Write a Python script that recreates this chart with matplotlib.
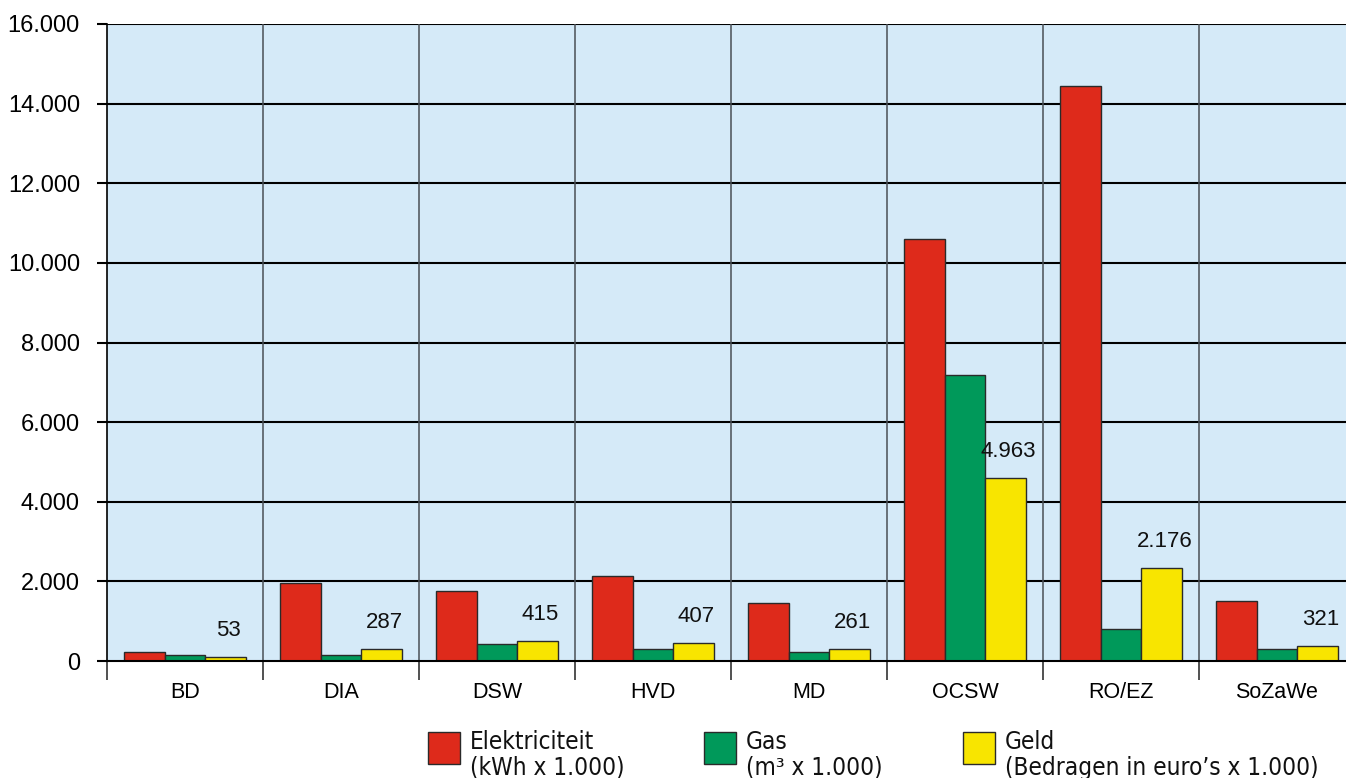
import matplotlib
matplotlib.use("Agg")
import matplotlib.pyplot as plt
from matplotlib.patches import Rectangle
import numpy as np
from matplotlib import font_manager

categories = ["BD", "DIA", "DSW", "HVD", "MD", "OCSW", "RO/EZ", "SoZaWe"]
elektriciteit = [220, 1960, 1760, 2140, 1450, 10590, 14450, 1510]
gas = [150, 145, 435, 310, 220, 7190, 800, 295]
geld = [100, 310, 510, 445, 310, 4600, 2345, 370]
geld_labels = ["53", "287", "415", "407", "261", "4.963", "2.176", "321"]
series_names = ["Elektriciteit\n(kWh x 1.000)", "Gas\n(m³ x 1.000)", "Geld\n(Bedragen in euro’s x 1.000)"]
yticks = [0, 2000, 4000, 6000, 8000, 10000, 12000, 14000, 16000]
ytick_labels = ["0", "2.000", "4.000", "6.000", "8.000", "10.000", "12.000", "14.000", "16.000"]

colors = ["#DE2A1B", "#00995A", "#F8E500"]
bg = "#D5EAF8"

avail = {f.name for f in font_manager.fontManager.ttflist}
narrow = "Liberation Sans Narrow" if "Liberation Sans Narrow" in avail else "DejaVu Sans"
plt.rcParams['font.family'] = ['Liberation Sans', 'DejaVu Sans']

W, H = 1346, 778
fig = plt.figure(figsize=(W / 100, H / 100), dpi=100)
ax = fig.add_axes([107 / W, (H - 661) / H, 1248 / W, (661 - 24) / H])
ax.set_facecolor(bg)

n = len(categories)
x = np.arange(n)
bw = 0.26
for i, (vals, c) in enumerate(zip([elektriciteit, gas, geld], colors)):
    ax.bar(x + (i - 1) * bw, vals, width=bw, color=c, edgecolor="#2a2a2a", linewidth=1.0, zorder=3)

for xi, v, lab in zip(x, geld, geld_labels):
    ax.annotate(lab, (xi + bw, v), xytext=(2, 19), textcoords="offset points",
                ha="center", va="center", fontsize=16, color="#111111", zorder=4)

ax.set_xlim(-0.5, n - 0.5)
ax.set_ylim(0, 16000)
ax.set_yticks(yticks)
ax.set_yticklabels(ytick_labels, fontsize=17)
ax.set_xticks(x)
ax.set_xticklabels(categories, fontsize=15.5)
ax.tick_params(axis="x", which="major", length=0, pad=15)
ax.set_xticks(np.arange(n + 1) - 0.5, minor=True)
ax.tick_params(axis="x", which="minor", length=14, width=1.2, color="#333333", direction="out")
ax.tick_params(axis="y", which="major", length=7.5, width=1.5, color="black", pad=12)

for yv in yticks[1:]:
    ax.axhline(yv, color="black", lw=1.5, zorder=1)
for b in np.arange(1, n) - 0.5:
    ax.axvline(b, color="#4a4f55", lw=1.1, zorder=1)

for s in ["top", "right"]:
    ax.spines[s].set_visible(False)
ax.spines["left"].set_linewidth(1.2)
ax.spines["bottom"].set_linewidth(1.5)
ax.spines["bottom"].set_zorder(5)

# legend
leg_x = [428, 704, 963]
for lx, c, name in zip(leg_x, colors, series_names):
    r = Rectangle((lx / W, (H - 764) / H), 32 / W, 32 / H, transform=fig.transFigure,
                  facecolor=c, edgecolor="#2a2a2a", lw=1.0)
    fig.add_artist(r)
    fig.text((lx + 42) / W, (H - 730) / H, name, fontsize=17.5, va="top", ha="left",
             family=[narrow, 'DejaVu Sans'], stretch="condensed", linespacing=1.1, color="#111111")

fig.savefig("out.png", dpi=100)
